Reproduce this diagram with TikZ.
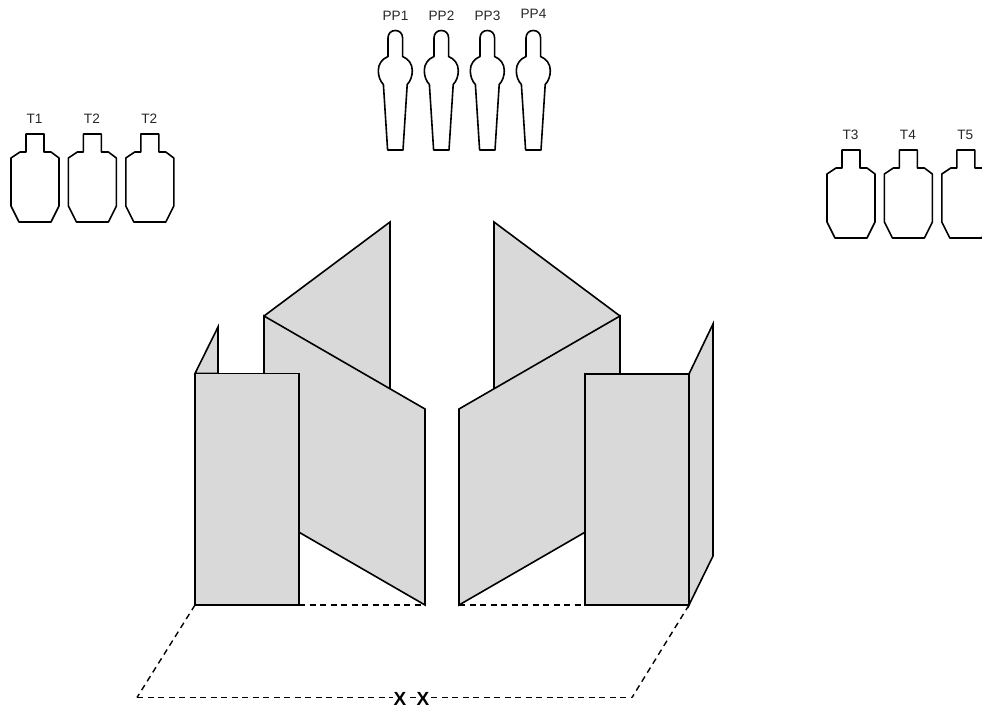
\documentclass[tikz,border=0pt]{standalone}
\usepackage{fontspec}
\setmainfont{Liberation Sans}
\tikzset{
  every picture/.style={x=1pt,y=-1pt},
  panel/.style={draw=black,fill=black!15,line width=1.6pt,line join=miter},
  outl/.style={draw=black,fill=white,line width=1.6pt,line join=round},
  dash line/.style={draw=black,line width=1.4pt,dash pattern=on 6pt off 4.5pt},
  lbl/.style={font=\fontsize{13.6}{15}\selectfont,inner sep=0pt,text=black!85},
  xlbl/.style={font=\bfseries\fontsize{19}{20}\selectfont,inner sep=0pt}
}
\newcommand{\torso}[3]{%
  \begin{scope}[shift={(#1,#2)}]
    \draw[outl] (26,134)--(44,134)--(44,152)--(51,152)--(59,158)--(59,206)--(51,222)--(19,222)--(11,206)--(11,158)--(20,152)--(26,152)--cycle;
    \node[lbl] at (34.5,119) {#3};
  \end{scope}}
\newcommand{\popper}[3]{%
  \begin{scope}[shift={(#1,0)}]
    \draw[outl] (387.6,150)--(383.4,84.5)
      .. controls (380,81) and (378.3,76) .. (378.3,70.5)
      .. controls (378.3,64) and (382,59) .. (388,56.5)
      --(388,38)
      .. controls (388,33.5) and (391,30.5) .. (395.3,30.5)
      .. controls (399.6,30.5) and (402.6,33.5) .. (402.6,38)
      --(402.6,56.5)
      .. controls (408.6,59) and (412.3,64) .. (412.3,70.5)
      .. controls (412.3,76) and (410.6,81) .. (407.2,84.5)
      --(403,150)--cycle;
    \node[lbl] at (395.5,#3) {#2};
  \end{scope}}
\begin{document}
\begin{tikzpicture}
\useasboundingbox (0,0) rectangle (982,708);
\torso{0}{0}{T1}
\torso{57.4}{0}{T2}
\torso{114.8}{0}{T2}
\torso{816}{16}{T3}
\torso{873.4}{16}{T4}
\begin{scope}
\clip (0,0) rectangle (982,708);
\torso{930.8}{16}{T5}
\end{scope}
\popper{0}{PP1}{16}
\popper{46}{PP2}{16}
\popper{92}{PP3}{16}
\popper{138}{PP4}{14}
% back wings
\draw[panel] (264,316)--(390,222)--(390,400)--(264,400)--cycle;
\draw[panel] (620,316)--(494,222)--(494,400)--(620,400)--cycle;
% centre wings
\draw[panel] (264,316)--(425,409)--(425,605)--(264,512)--cycle;
\draw[panel] (620,316)--(459,409)--(459,605)--(620,512)--cycle;
% outer side wings
\draw[panel] (195,373.5)--(218,327)--(218,373.5)--cycle;
\draw[panel] (689,374)--(713,324)--(713,556)--(689,605)--cycle;
% front panels
\draw[panel] (195,373.5) rectangle (299,605);
\draw[panel] (585,374) rectangle (689,605);
% floor
\coordinate (fl) at (195,605);
\coordinate (fr) at (689,605);
\coordinate (bl) at (137,697.5);
\coordinate (br) at (632,697.5);
\coordinate (a1) at (299,605);
\coordinate (a2) at (425,605);
\coordinate (b1) at (459,605);
\coordinate (b2) at (585,605);
\draw[dash line] (a1)--(a2);
\draw[dash line] (b1)--(b2);
\draw[dash line] (fl)--(bl);
\draw[dash line] (fr)--(br);
\draw[dash line] (bl)--(br);
\node[xlbl,fill=white,inner xsep=0.5pt] at (400,699) {X};
\node[xlbl,fill=white,inner xsep=0.5pt] at (423,699) {X};
\end{tikzpicture}
\end{document}
